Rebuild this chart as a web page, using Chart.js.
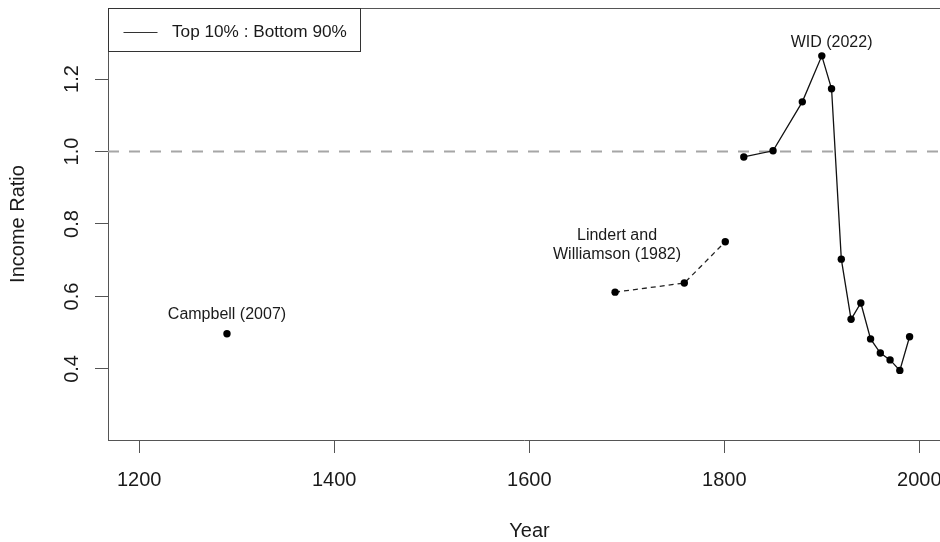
<!DOCTYPE html>
<html><head><meta charset="utf-8">
<script src="https://cdn.jsdelivr.net/npm/chart.js@4.4.1/dist/chart.umd.min.js"></script>
<style>html,body{margin:0;padding:0;background:#fff;overflow:hidden}#wrap{width:940px;height:542px;position:relative}</style>
</head><body><div id="wrap"><canvas id="c" width="940" height="542"></canvas></div>
<script>
// ---- data ----
const campbellYears = [1290];
const campbellValues = [0.497];
const lindertYears = [1688, 1759, 1801];
const lindertValues = [0.612, 0.637, 0.751];
const widYears = [1820, 1850, 1880, 1900, 1910, 1920, 1930, 1940, 1950, 1960, 1970, 1980, 1990];
const widValues = [0.985, 1.002, 1.137, 1.264, 1.173, 0.703, 0.537, 0.582, 0.483, 0.444, 0.425, 0.396, 0.489];
const referenceLevel = 1.0;
const xTickValues = [1200, 1400, 1600, 1800, 2000];
const yTickValues = [0.4, 0.6, 0.8, 1.0, 1.2];
const annotationTexts = [['WID (2022)'], ['Lindert and', 'Williamson (1982)'], ['Campbell (2007)']];
const annotationYears = [1910, 1690, 1290];
const annotationValues = [1.3, 0.742, 0.55];
const legendLabel = 'Top 10% : Bottom 90%';
const xTitle = 'Year';
const yTitle = 'Income Ratio';
const xRange = [1168, 2021.2];
const yRange = [0.204, 1.396];

// ---- helpers ----
const FONT = '"Liberation Sans", Arial, Helvetica, sans-serif';
const TXT = '#1a1a1a';
const AX = '#555555';
const pts = (xs, ys) => xs.map((x, i) => ({x: x, y: ys[i]}));

const decorPlugin = {
  id: 'decor',
  afterDraw(chart) {
    const ctx = chart.ctx, ca = chart.chartArea;
    const xs = chart.scales.x, ys = chart.scales.y;
    ctx.save();
    // top border of plot box
    ctx.strokeStyle = AX; ctx.lineWidth = 1;
    ctx.beginPath(); ctx.moveTo(ca.left, Math.round(ca.top) + 0.5); ctx.lineTo(ca.right, Math.round(ca.top) + 0.5); ctx.stroke();
    // rotated y tick labels
    ctx.fillStyle = TXT; ctx.font = '20px ' + FONT;
    ctx.textAlign = 'center'; ctx.textBaseline = 'alphabetic';
    ys.ticks.forEach(t => {
      const y = ys.getPixelForValue(t.value);
      ctx.save(); ctx.translate(78, y); ctx.rotate(-Math.PI / 2);
      ctx.fillText(t.value.toFixed(1), 0, 0); ctx.restore();
    });
    // x title
    ctx.textBaseline = 'alphabetic';
    ctx.fillText(xTitle, 529.5, 537);
    // annotations
    ctx.font = '16px ' + FONT; ctx.textBaseline = 'middle';
    annotationTexts.forEach((lines, i) => {
      const cx = xs.getPixelForValue(annotationYears[i]);
      const cy = ys.getPixelForValue(annotationValues[i]);
      const lh = 18.4;
      lines.forEach((s, j) => {
        ctx.fillText(s, cx, cy + (j - (lines.length - 1) / 2) * lh);
      });
    });
    // legend box
    const lx = Math.round(ca.left) + 0.5, ly = Math.round(ca.top) + 0.5;
    ctx.strokeStyle = '#333'; ctx.lineWidth = 1;
    ctx.strokeRect(lx, ly, 252, 43);
    ctx.strokeStyle = '#333'; ctx.lineWidth = 1.2;
    ctx.beginPath(); ctx.moveTo(lx + 15, ly + 24); ctx.lineTo(lx + 49, ly + 24); ctx.stroke();
    ctx.font = '17.2px ' + FONT; ctx.textAlign = 'left'; ctx.textBaseline = 'middle';
    ctx.fillText(legendLabel, lx + 63.5, ly + 24);
    ctx.restore();
  }
};

new Chart(document.getElementById('c'), {
  type: 'scatter',
  data: {
    datasets: [
      {
        label: 'WID',
        data: pts(widYears, widValues),
        showLine: true, borderColor: '#111', borderWidth: 1.3,
        pointRadius: 3.7, pointBackgroundColor: '#000', pointBorderWidth: 0, tension: 0
      },
      {
        label: 'Lindert',
        data: pts(lindertYears, lindertValues),
        showLine: true, borderColor: '#222', borderWidth: 1.3, borderDash: [5, 4],
        pointRadius: 3.7, pointBackgroundColor: '#000', pointBorderWidth: 0, tension: 0
      },
      {
        label: 'Campbell',
        data: pts(campbellYears, campbellValues),
        showLine: false,
        pointRadius: 3.7, pointBackgroundColor: '#000', pointBorderWidth: 0
      },
      {
        label: 'ref',
        data: pts(xRange, [referenceLevel, referenceLevel]),
        showLine: true, borderColor: '#a6a6a6', borderWidth: 2, borderDash: [11, 10],
        pointRadius: 0, tension: 0
      }
    ]
  },
  options: {
    responsive: false, animation: false, devicePixelRatio: 1,
    layout: {autoPadding: false, padding: {top: 8, left: 0, right: 0, bottom: 0}},
    plugins: {legend: {display: false}, tooltip: {enabled: false}},
    scales: {
      x: {
        type: 'linear', min: xRange[0], max: xRange[1],
        afterBuildTicks: s => { s.ticks = xTickValues.map(v => ({value: v})); },
        afterFit: s => { s.height = 102; s.paddingLeft = 0; s.paddingRight = 0; },
        ticks: {font: {size: 20, family: FONT}, color: TXT, padding: 15.5, maxRotation: 0, autoSkip: false,
                callback: v => String(v)},
        grid: {display: true, drawOnChartArea: false, drawTicks: true, tickLength: 13, color: AX, lineWidth: 1},
        border: {display: true, color: AX, width: 1}
      },
      y: {
        type: 'linear', min: yRange[0], max: yRange[1],
        afterBuildTicks: s => { s.ticks = yTickValues.map(v => ({value: v})); },
        afterFit: s => { s.width = 108; },
        ticks: {display: false},
        title: {display: true, text: yTitle, font: {size: 20, family: FONT}, color: TXT, padding: {top: 6, bottom: 0}},
        grid: {display: true, drawOnChartArea: false, drawTicks: true, tickLength: 13, color: AX, lineWidth: 1},
        border: {display: true, color: AX, width: 1}
      }
    }
  },
  plugins: [decorPlugin]
});
</script>
</body></html>
